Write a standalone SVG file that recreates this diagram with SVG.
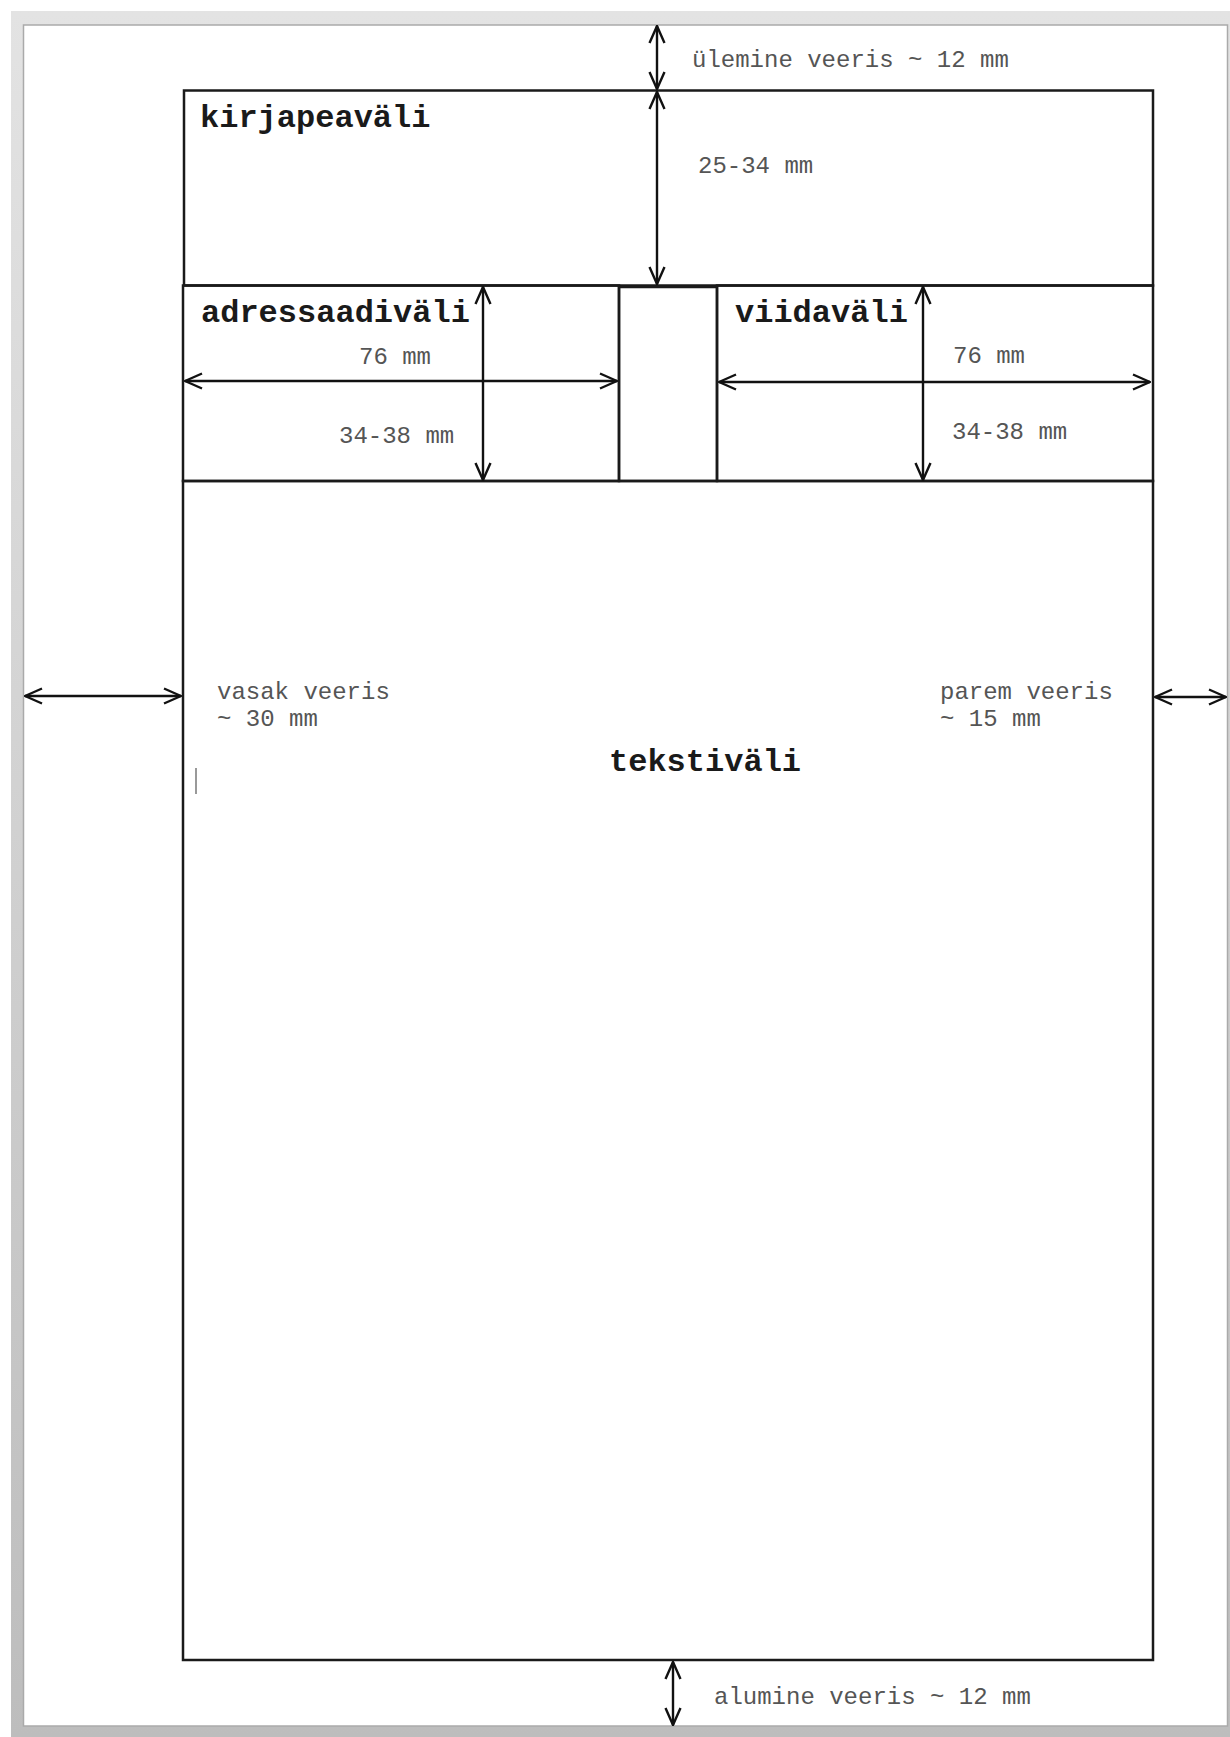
<svg xmlns="http://www.w3.org/2000/svg" width="1230" height="1737" viewBox="0 0 1230 1737">
<defs>
<linearGradient id="frame" x1="0" y1="0" x2="0" y2="1">
<stop offset="0" stop-color="#e3e3e3"/>
<stop offset="1" stop-color="#bdbdbd"/>
</linearGradient>
<marker id="ah" viewBox="0 0 20 18" refX="19" refY="9" markerWidth="20" markerHeight="18" markerUnits="userSpaceOnUse" orient="auto-start-reverse">
<path d="M2,1.5 L19,9 L2,16.5" fill="none" stroke="#111" stroke-width="2.4"/>
</marker>
</defs>
<style>
.box{fill:none;stroke:#1a1a1a;stroke-width:2.5}
.arr{fill:none;stroke:#111;stroke-width:2.4;marker-start:url(#ah);marker-end:url(#ah)}
.lbl{font-family:"Liberation Mono","Courier New",monospace;font-weight:bold;font-size:32px;fill:#1a1a1a}
.dim{font-family:"Liberation Mono","Courier New",monospace;font-size:24px;fill:#555}
</style>
<rect x="0" y="0" width="1230" height="1737" fill="#ffffff"/>
<rect x="11" y="11" width="1219" height="1726" fill="url(#frame)"/>
<rect x="23.5" y="25" width="1204" height="1701" fill="#ffffff" stroke="#aaaaaa" stroke-width="1.5"/>

<g id="kirjapeavali">
<rect class="box" x="184" y="90.5" width="969" height="195"/>
<text class="lbl" x="200" y="127">kirjapeaväli</text>
</g>
<g id="adressaadivali">
<rect class="box" x="183" y="285.5" width="436" height="195.5"/>
<text class="lbl" x="201" y="322">adressaadiväli</text>
</g>
<g id="vahe">
<rect class="box" x="619" y="287" width="98" height="194"/>
</g>
<g id="viidavali">
<rect class="box" x="717" y="285.5" width="436" height="195.5"/>
<text class="lbl" x="735" y="322">viidaväli</text>
</g>
<g id="tekstivali">
<rect class="box" x="183" y="481" width="970" height="1179"/>
<text class="lbl" x="609" y="771">tekstiväli</text>
<line x1="196" y1="768" x2="196" y2="794" stroke="#777" stroke-width="1.5"/>
</g>

<g id="connectors">
<line class="arr" x1="657" y1="26" x2="657" y2="89"/>
<line class="arr" x1="657" y1="92" x2="657" y2="284"/>
<line class="arr" x1="185" y1="381" x2="617" y2="381"/>
<line class="arr" x1="483" y1="287" x2="483" y2="480"/>
<line class="arr" x1="719" y1="382" x2="1150" y2="382"/>
<line class="arr" x1="923" y1="287" x2="923" y2="480"/>
<line class="arr" x1="25" y1="696" x2="181" y2="696"/>
<line class="arr" x1="1155" y1="697" x2="1226" y2="697"/>
<line class="arr" x1="673" y1="1662" x2="673" y2="1725"/>
</g>

<g id="labels">
<text class="dim" x="692" y="67">ülemine veeris ~ 12 mm</text>
<text class="dim" x="698" y="173">25-34 mm</text>
<text class="dim" x="359" y="364">76 mm</text>
<text class="dim" x="339" y="443">34-38 mm</text>
<text class="dim" x="953" y="363">76 mm</text>
<text class="dim" x="952" y="439">34-38 mm</text>
<text class="dim" x="217" y="699">vasak veeris</text>
<text class="dim" x="217" y="726">~ 30 mm</text>
<text class="dim" x="940" y="699">parem veeris</text>
<text class="dim" x="940" y="726">~ 15 mm</text>
<text class="dim" x="714" y="1704">alumine veeris ~ 12 mm</text>
</g>
</svg>
